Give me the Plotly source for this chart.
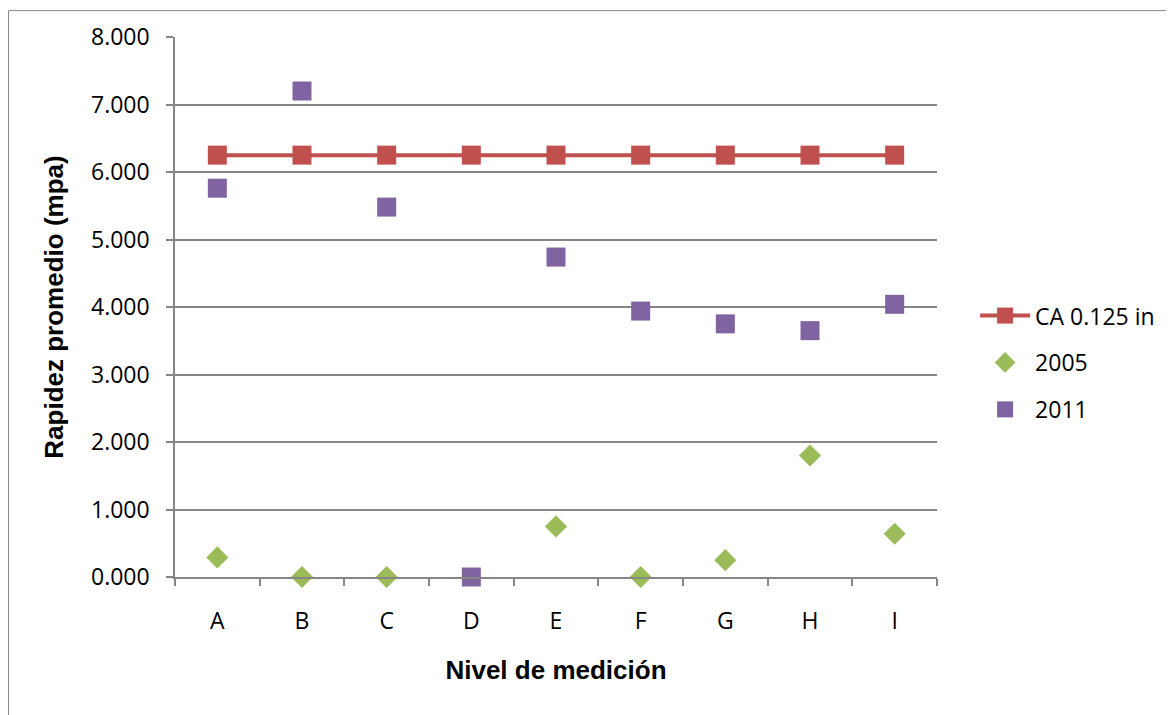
import plotly.graph_objects as go

categories = ["A", "B", "C", "D", "E", "F", "G", "H", "I"]
ca_values = [6.25, 6.25, 6.25, 6.25, 6.25, 6.25, 6.25, 6.25, 6.25]
v2005 = [0.29, 0.0, 0.0, None, 0.75, 0.0, 0.25, 1.80, 0.64]
v2011 = [5.76, 7.20, 5.48, 0.0, 4.74, 3.94, 3.75, 3.65, 4.04]

fig = go.Figure()
fig.add_trace(go.Scatter(
    x=categories, y=ca_values, name="CA 0.125 in", mode="lines+markers",
    legendgroup="g1", cliponaxis=False,
    line=dict(color="#C0504D", width=4),
    marker=dict(symbol="square", size=19, color="#C0504D"),
))
fig.add_trace(go.Scatter(
    x=categories, y=v2005, name="2005", mode="markers",
    legendgroup="g2", cliponaxis=False,
    marker=dict(symbol="diamond", size=17, color="#9BBB59"),
))
fig.add_trace(go.Scatter(
    x=categories, y=v2011, name="2011", mode="markers",
    legendgroup="g3", cliponaxis=False,
    marker=dict(symbol="square", size=19, color="#8064A2"),
))

# page is offset by 8px body margin
L, R, T, B = 167, 237, 27, 138
W, H = 1166, 707
pw, ph = W - L - R, H - T - B
bx = (0.5 - L) / pw
by = (H - B - 0.5) / ph

tickfont = dict(family="Open Sans, sans-serif", size=23, color="black")
titlefont = dict(family="Liberation Sans, Arial, sans-serif", size=26, color="black")

fig.update_layout(
    width=W, height=H,
    margin=dict(l=L, r=R, t=T, b=B),
    paper_bgcolor="white", plot_bgcolor="white",
    font=dict(family="Open Sans, sans-serif", size=23, color="black"),
    showlegend=True,
    legend=dict(x=1.05, y=0.397, xanchor="left", yanchor="middle",
                font=dict(size=23), tracegroupgap=14, itemwidth=50),
    xaxis=dict(
        type="category", range=[-0.5, 8.5],
        showgrid=False, showline=True, linecolor="#868686", linewidth=1.5,
        ticks="outside", tickson="boundaries", ticklen=7, tickcolor="#868686", tickwidth=1.5,
        tickfont=tickfont, ticklabelstandoff=23,
        title=dict(text="<b>Nivel de medición</b>", font=titlefont, standoff=25),
    ),
    yaxis=dict(
        range=[0, 8], dtick=1, tickformat=".3f",
        showgrid=True, gridcolor="#868686", gridwidth=1.5,
        showline=True, linecolor="#868686", linewidth=1.5,
        ticks="outside", ticklen=7, tickcolor="#868686", tickwidth=1.5,
        zeroline=False, tickfont=tickfont, ticklabelstandoff=12,
        title=dict(text="<b>Rapidez promedio (mpa)</b>", font=titlefont, standoff=20),
    ),
    shapes=[dict(type="rect", xref="paper", yref="paper", x0=bx, y0=-1, x1=2, y1=by,
                 line=dict(color="#878787", width=1), layer="below")],
)

fig.write_html("out.html")
